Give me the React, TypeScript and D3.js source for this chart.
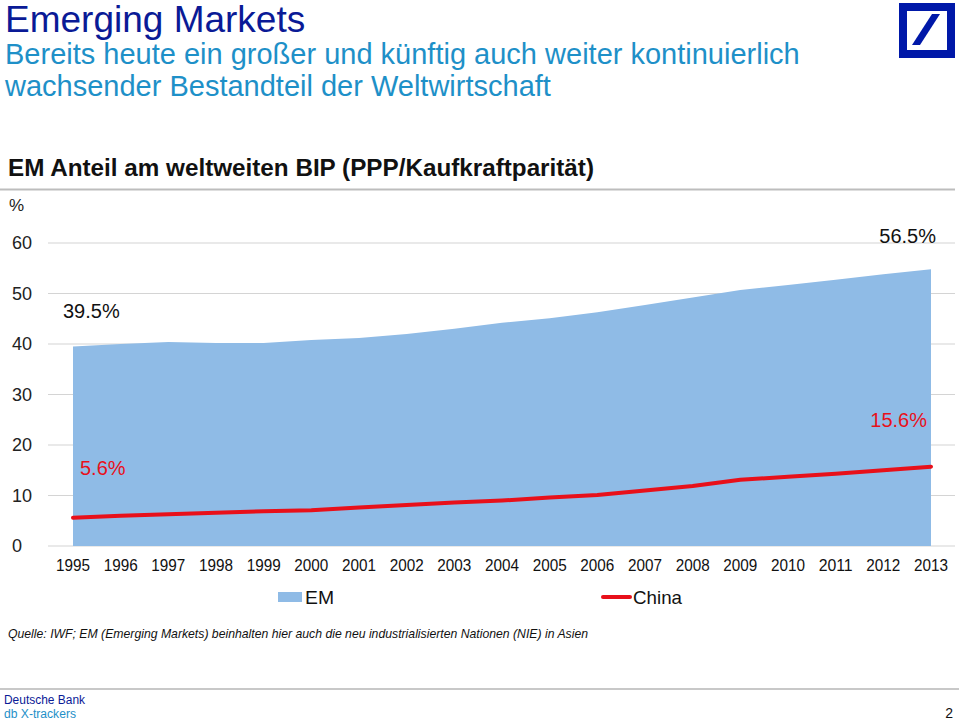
import React from "react";
import * as d3 from "d3";

const years = [1995,1996,1997,1998,1999,2000,2001,2002,2003,2004,2005,2006,2007,2008,2009,2010,2011,2012,2013];
const emShare = [39.5,40.0,40.4,40.2,40.2,40.8,41.2,42.0,43.0,44.2,45.1,46.3,47.7,49.2,50.7,51.7,52.7,53.8,54.8];
const chinaShare = [5.6,6.0,6.3,6.6,6.9,7.1,7.6,8.1,8.6,9.0,9.6,10.1,11.0,11.9,13.1,13.7,14.3,15.0,15.7];
const yTicks = [0,10,20,30,40,50,60];

const W = 959, H = 721;
const x = d3.scaleLinear().domain([1995, 2013]).range([73, 931]);
const y = d3.scaleLinear().domain([0, 60]).range([546, 243]);

const BLUE_DARK = "#0A1A96";
const BLUE_LIGHT = "#1E90C8";
const AREA = "#8FBBE6";
const RED = "#E8101A";
const font = "'Liberation Sans', Arial, Helvetica, sans-serif";

export default function App() {
  const area = d3.area<number>()
    .x((_, i) => x(years[i]))
    .y0(y(0))
    .y1((d) => y(d))(emShare) as string;
  const line = d3.line<number>()
    .x((_, i) => x(years[i]))
    .y((d) => y(d))(chinaShare) as string;

  return (
    <svg width={W} height={H} style={{ position: "absolute", left: 0, top: 0, background: "#fff" }} fontFamily={font}>
      <rect width={W} height={H} fill="#fff" />
      <text x={5} y={32} fontSize={37} fill={BLUE_DARK}>Emerging Markets</text>
      <text x={5} y={64} fontSize={29} fill={BLUE_LIGHT}>Bereits heute ein großer und künftig auch weiter kontinuierlich</text>
      <text x={5} y={96} fontSize={29} fill={BLUE_LIGHT}>wachsender Bestandteil der Weltwirtschaft</text>

      {/* logo */}
      <rect x={903} y={7} width={48} height={47} fill="none" stroke="#0018A8" strokeWidth={8} />
      <polygon points="912,45 920,45 940,14 932,14" fill="#0018A8" />

      <text x={8} y={176} fontSize={23} fontWeight="bold" fill="#111" textLength={586} lengthAdjust="spacingAndGlyphs">EM Anteil am weltweiten BIP (PPP/Kaufkraftparität)</text>
      <line x1={0} x2={955} y1={189.5} y2={189.5} stroke="#BDBDBD" strokeWidth={2} />

      <text x={9} y={211} fontSize={17} fill="#222">%</text>

      {yTicks.map((t) => (
        <g key={t}>
          <line x1={48} x2={955} y1={y(t)} y2={y(t)} stroke="#D4D4D4" strokeWidth={1.2} />
          <text x={12} y={y(t) + 6} fontSize={18} fill="#222">{t}</text>
        </g>
      ))}

      <path d={area} fill={AREA} />
      <path d={line} fill="none" stroke={RED} strokeWidth={4} strokeLinecap="round" strokeLinejoin="round" />

      <text x={63} y={318} fontSize={20} fill="#111">39.5%</text>
      <text x={936} y={243} fontSize={20} fill="#111" textAnchor="end">56.5%</text>
      <text x={80} y={475} fontSize={20} fill={RED}>5.6%</text>
      <text x={927} y={427} fontSize={20} fill={RED} textAnchor="end">15.6%</text>

      {years.map((yr) => (
        <text key={yr} x={x(yr) - 17} y={571} fontSize={16} fill="#111" textLength={34} lengthAdjust="spacingAndGlyphs">{yr}</text>
      ))}

      <rect x={278} y={592} width={24} height={10} fill={AREA} />
      <text x={305} y={604} fontSize={19} fill="#111" textLength={29} lengthAdjust="spacingAndGlyphs">EM</text>
      <line x1={603} x2={630} y1={597} y2={597} stroke={RED} strokeWidth={4} strokeLinecap="round" />
      <text x={633} y={604} fontSize={19} fill="#111" textLength={49} lengthAdjust="spacingAndGlyphs">China</text>

      <text x={8} y={638} fontSize={13.5} fontStyle="italic" fill="#111" textLength={580} lengthAdjust="spacingAndGlyphs">Quelle: IWF; EM (Emerging Markets) beinhalten hier auch die neu industrialisierten Nationen  (NIE) in Asien</text>

      <line x1={0} x2={959} y1={689} y2={689} stroke="#C8C8C8" strokeWidth={2} />
      <text x={4} y={704} fontSize={12.5} fill={BLUE_DARK} textLength={81} lengthAdjust="spacingAndGlyphs">Deutsche Bank</text>
      <text x={4} y={718} fontSize={12.5} fill={BLUE_LIGHT} textLength={72} lengthAdjust="spacingAndGlyphs">db X-trackers</text>
      <text x={953} y={718} fontSize={14} fill="#111" textAnchor="end">2</text>
    </svg>
  );
}
